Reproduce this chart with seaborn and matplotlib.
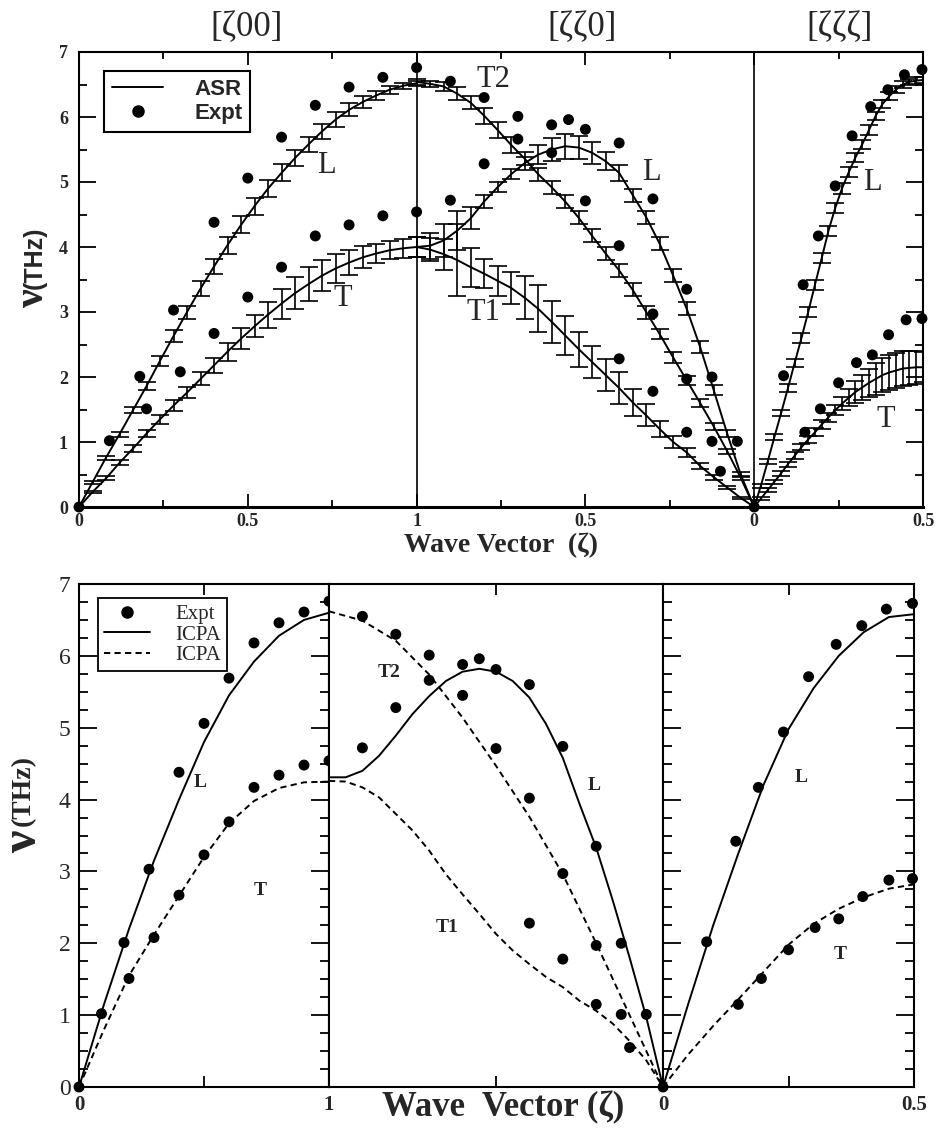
import matplotlib
matplotlib.use("Agg")
import matplotlib.pyplot as plt
from matplotlib.lines import Line2D
from matplotlib.ticker import FixedLocator, MultipleLocator
import seaborn as sns

# ---------------- top panel : ASR with error bars ----------------
zeta_04 = [0.0, 0.04, 0.08, 0.12, 0.16, 0.2, 0.24, 0.28, 0.32, 0.36, 0.4, 0.44, 0.48,
           0.52, 0.56, 0.6, 0.64, 0.68, 0.72, 0.76, 0.8, 0.84, 0.88, 0.92, 0.96, 1.0]
zeta_04_rev = zeta_04[::-1]
zeta_02 = [0.0, 0.02, 0.04, 0.06, 0.08, 0.1, 0.12, 0.14, 0.16, 0.18, 0.2, 0.22, 0.24,
           0.26, 0.28, 0.3, 0.32, 0.34, 0.36, 0.38, 0.4, 0.42, 0.44, 0.46, 0.48, 0.5]

asr_x00_L = [0.0, 0.38, 0.76, 1.12, 1.49, 1.86, 2.25, 2.63, 3.0, 3.36, 3.7, 4.03, 4.34,
             4.63, 4.9, 5.14, 5.37, 5.58, 5.78, 5.96, 6.11, 6.23, 6.33, 6.42, 6.48, 6.52]
asr_x00_L_err = [0.0, 0.02, 0.03, 0.04, 0.05, 0.06, 0.08, 0.09, 0.1, 0.11, 0.12, 0.13, 0.13,
                 0.13, 0.13, 0.13, 0.13, 0.12, 0.12, 0.11, 0.1, 0.09, 0.07, 0.06, 0.05, 0.04]
asr_x00_T = [0.0, 0.23, 0.44, 0.68, 0.9, 1.13, 1.35, 1.56, 1.76, 1.97, 2.18, 2.39, 2.59,
             2.78, 2.96, 3.13, 3.29, 3.43, 3.56, 3.67, 3.76, 3.84, 3.9, 3.95, 3.98, 4.0]
asr_x00_T_err = [0.0, 0.02, 0.03, 0.04, 0.05, 0.06, 0.07, 0.08, 0.09, 0.1, 0.12, 0.14, 0.16,
                 0.17, 0.2, 0.23, 0.25, 0.26, 0.24, 0.22, 0.19, 0.17, 0.15, 0.14, 0.15, 0.16]

# [zz0] listed from zeta = 1 down to 0
asr_xx0_T2 = [6.54, 6.51, 6.47, 6.36, 6.22, 6.02, 5.8, 5.57, 5.36, 5.12, 4.92, 4.7, 4.45,
              4.17, 3.9, 3.64, 3.34, 3.0, 2.66, 2.3, 1.95, 1.6, 1.24, 0.86, 0.45, 0.0]
asr_xx0_T2_err = [0.04, 0.05, 0.07, 0.1, 0.1, 0.12, 0.12, 0.12, 0.1, 0.1, 0.1, 0.1, 0.1,
                  0.1, 0.1, 0.1, 0.1, 0.1, 0.08, 0.08, 0.07, 0.06, 0.05, 0.04, 0.03, 0.0]
asr_xx0_L = [4.0, 4.02, 4.1, 4.25, 4.44, 4.7, 4.92, 5.12, 5.29, 5.42, 5.5, 5.55, 5.53,
             5.45, 5.32, 5.14, 4.8, 4.46, 4.05, 3.56, 3.05, 2.46, 1.8, 1.13, 0.5, 0.0]
asr_xx0_L_err = [0.15, 0.2, 0.25, 0.3, 0.17, 0.1, 0.08, 0.08, 0.1, 0.15, 0.17, 0.19, 0.18,
                 0.17, 0.14, 0.12, 0.1, 0.1, 0.1, 0.1, 0.1, 0.09, 0.08, 0.06, 0.04, 0.0]
asr_xx0_T1 = [4.0, 3.96, 3.89, 3.8, 3.69, 3.59, 3.48, 3.37, 3.22, 3.05, 2.85, 2.64, 2.43,
              2.23, 2.03, 1.83, 1.61, 1.41, 1.2, 1.0, 0.84, 0.63, 0.46, 0.3, 0.14, 0.0]
asr_xx0_T1_err = [0.15, 0.18, 0.24, 0.55, 0.3, 0.22, 0.23, 0.24, 0.33, 0.36, 0.32, 0.3, 0.27,
                  0.25, 0.24, 0.24, 0.21, 0.17, 0.12, 0.09, 0.07, 0.05, 0.04, 0.03, 0.02, 0.0]

asr_xxx_L = [0.0, 0.33, 0.7, 1.08, 1.45, 1.83, 2.22, 2.6, 3.0, 3.42, 3.83, 4.25, 4.6,
             4.9, 5.15, 5.38, 5.58, 5.8, 6.02, 6.2, 6.32, 6.42, 6.5, 6.54, 6.56, 6.57]
asr_xxx_L_err = [0.0, 0.03, 0.04, 0.05, 0.05, 0.06, 0.06, 0.07, 0.07, 0.08, 0.08, 0.08, 0.08,
                 0.08, 0.08, 0.07, 0.07, 0.07, 0.06, 0.06, 0.06, 0.05, 0.05, 0.05, 0.05, 0.05]
asr_xxx_T = [0.0, 0.13, 0.26, 0.39, 0.52, 0.66, 0.79, 0.92, 1.04, 1.15, 1.27, 1.38, 1.49,
             1.59, 1.68, 1.77, 1.84, 1.91, 1.97, 2.03, 2.07, 2.1, 2.13, 2.14, 2.15, 2.15]
asr_xxx_T_err = [0.0, 0.02, 0.03, 0.03, 0.04, 0.04, 0.05, 0.05, 0.06, 0.06, 0.07, 0.07, 0.08,
                 0.1, 0.13, 0.17, 0.19, 0.22, 0.24, 0.26, 0.27, 0.27, 0.27, 0.26, 0.25, 0.23]

# ---------------- experiment (same in both panels) ----------------
expt_x00_zeta = [0.0, 0.09, 0.18, 0.28, 0.4, 0.5, 0.6, 0.7, 0.8, 0.9, 1.0,
                 0.2, 0.3, 0.4, 0.5, 0.6, 0.7, 0.8, 0.9, 1.0]
expt_x00_nu = [0.0, 1.02, 2.01, 3.03, 4.38, 5.06, 5.69, 6.18, 6.46, 6.61, 6.76,
               1.51, 2.08, 2.67, 3.23, 3.69, 4.17, 4.34, 4.48, 4.54]
expt_xx0_zeta = [0.9, 0.9, 0.8, 0.8, 0.7, 0.7, 0.6, 0.6, 0.55, 0.5, 0.5, 0.4, 0.4, 0.4,
                 0.3, 0.3, 0.3, 0.2, 0.2, 0.2, 0.125, 0.125, 0.05, 0.1]
expt_xx0_nu = [6.55, 4.72, 6.3, 5.28, 6.01, 5.66, 5.88, 5.45, 5.96, 5.81, 4.71, 5.6, 4.02, 2.28,
               4.74, 2.97, 1.78, 3.35, 1.97, 1.15, 2.0, 1.01, 1.01, 0.55]
expt_xxx_zeta = [0.0, 0.087, 0.145, 0.19, 0.24, 0.29, 0.345, 0.396, 0.445, 0.497,
                 0.15, 0.196, 0.25, 0.303, 0.35, 0.398, 0.45, 0.497]
expt_xxx_nu = [0.0, 2.02, 3.42, 4.17, 4.94, 5.71, 6.16, 6.42, 6.65, 6.73,
               1.15, 1.51, 1.91, 2.22, 2.34, 2.65, 2.88, 2.9]

# ---------------- bottom panel : ICPA ----------------
icpa_x00_zeta = [0.0, 0.1, 0.2, 0.3, 0.4, 0.5, 0.6, 0.7, 0.8, 0.9, 1.0]
icpa_x00_L = [0.0, 1.15, 2.2, 3.15, 4.0, 4.8, 5.45, 5.92, 6.28, 6.5, 6.6]
icpa_x00_T = [0.0, 0.8, 1.55, 2.12, 2.66, 3.2, 3.67, 3.98, 4.16, 4.24, 4.25]

icpa_xx0_zeta = [1.0, 0.95, 0.9, 0.85, 0.8, 0.75, 0.7, 0.65, 0.6, 0.55, 0.5,
                 0.45, 0.4, 0.35, 0.3, 0.25, 0.2, 0.15, 0.1, 0.05, 0.0]
icpa_xx0_L = [4.31, 4.31, 4.4, 4.61, 4.89, 5.19, 5.44, 5.65, 5.78, 5.82, 5.78,
              5.65, 5.42, 5.05, 4.58, 3.94, 3.33, 2.59, 1.8, 0.97, 0.0]
icpa_xx0_T1 = [4.26, 4.25, 4.17, 4.03, 3.8, 3.57, 3.29, 2.96, 2.68, 2.41, 2.13,
               1.9, 1.71, 1.53, 1.39, 1.2, 1.06, 0.88, 0.64, 0.37, 0.0]
icpa_xx0_T2_zeta = [1.0, 0.9, 0.8, 0.7, 0.6, 0.5, 0.4, 0.3, 0.2, 0.1, 0.0]
icpa_xx0_T2 = [6.62, 6.49, 6.21, 5.74, 5.14, 4.47, 3.76, 2.96, 2.0, 1.0, 0.0]

icpa_xxx_zeta = [0.0, 0.05, 0.1, 0.15, 0.2, 0.25, 0.3, 0.35, 0.4, 0.45, 0.5]
icpa_xxx_L = [0.0, 1.15, 2.25, 3.25, 4.2, 4.98, 5.55, 6.0, 6.33, 6.54, 6.58]
icpa_xxx_T = [0.0, 0.45, 0.85, 1.22, 1.6, 1.98, 2.27, 2.48, 2.64, 2.76, 2.82]

top_tick_labels = ["0", "0.5", "1", "0.5", "0", "0.5"]
dir_labels = ["[\u03b600]", "[\u03b6\u03b60]", "[\u03b6\u03b6\u03b6]"]

SERIF = ["Liberation Serif", "DejaVu Serif"]
SANS = ["Liberation Sans", "DejaVu Sans"]

sns.set_theme(style="ticks")
plt.rcParams["font.family"] = SERIF
plt.rcParams["axes.linewidth"] = 1.5

W, H = 938, 1128
fig = plt.figure(figsize=(W / 100, H / 100), dpi=100)


def rect(x0, y0, x1, y1):
    return [x0 / W, 1 - y1 / H, (x1 - x0) / W, (y1 - y0) / H]


def to_x(seg, z):
    # global abscissa of the top panel
    if seg == 0:
        return list(z)
    if seg == 1:
        return [2 - v for v in z]
    return [2 + v for v in z]


# ================= top panel =================
ax = fig.add_axes(rect(79, 52, 923, 507))
curves = [
    (0, zeta_04, asr_x00_L, asr_x00_L_err),
    (0, zeta_04, asr_x00_T, asr_x00_T_err),
    (1, zeta_04_rev, asr_xx0_T2, asr_xx0_T2_err),
    (1, zeta_04_rev, asr_xx0_L, asr_xx0_L_err),
    (1, zeta_04_rev, asr_xx0_T1, asr_xx0_T1_err),
    (2, zeta_02, asr_xxx_L, asr_xxx_L_err),
    (2, zeta_02, asr_xxx_T, asr_xxx_T_err),
]
for seg, z, nu, err in curves:
    xs = to_x(seg, z)
    sns.lineplot(x=xs, y=nu, ax=ax, color="black", lw=1.4, sort=False, estimator=None)
    ax.errorbar(xs, nu, yerr=err, fmt="none", ecolor="black", elinewidth=1.2,
                capsize=6.5, capthick=1.2)

ex = to_x(0, expt_x00_zeta) + to_x(1, expt_xx0_zeta) + to_x(2, expt_xxx_zeta)
ey = expt_x00_nu + expt_xx0_nu + expt_xxx_nu
sns.scatterplot(x=ex, y=ey, ax=ax, color="black", s=62, edgecolor="none",
                marker="o", clip_on=False, zorder=5)

ax.axvline(1, color="black", lw=1.2)
ax.axvline(2, color="black", lw=1.2)
ax.set_xlim(0, 2.5)
ax.set_ylim(0, 7)
ax.xaxis.set_major_locator(FixedLocator([0, 0.5, 1, 1.5, 2, 2.5]))
ax.set_xticklabels(top_tick_labels)
ax.xaxis.set_minor_locator(FixedLocator([0.25, 0.75, 1.25, 1.75, 2.25]))
ax.yaxis.set_major_locator(MultipleLocator(1))
ax.yaxis.set_minor_locator(MultipleLocator(0.5))
ax.tick_params(axis="both", which="both", direction="in", top=True, right=True,
               color="black", width=1.3)
ax.tick_params(axis="x", which="major", length=9.5, pad=4)
ax.tick_params(axis="x", which="minor", length=5)
ax.tick_params(axis="y", which="major", length=12.5, pad=8)
ax.tick_params(axis="y", which="minor", length=6)
for lab in ax.get_xticklabels() + ax.get_yticklabels():
    lab.set_fontweight("bold")
    lab.set_fontsize(13)
for sp in ax.spines.values():
    sp.set_color("black")
ax.spines["bottom"].set_linewidth(2.2)

ax.set_xlabel("Wave Vector  (\u03b6)", fontsize=20, fontweight="bold", labelpad=2)

for txt, (x, y) in [("L", (0.734, 5.26)), ("T", (0.78, 3.2)), ("T2", (1.228, 6.57)),
                    ("L", (1.695, 5.15)), ("T1", (1.198, 3.0)), ("L", (2.35, 5.0)),
                    ("T", (2.39, 1.35))]:
    ax.text(x, y, txt, fontsize=22, ha="center", va="center")

handles = [Line2D([], [], color="black", lw=1.4),
           Line2D([], [], color="black", marker="o", ls="none", ms=8)]
leg = ax.legend(handles, ["ASR", "Expt"], loc="upper left", bbox_to_anchor=(0.03, 0.958),
                borderaxespad=0, frameon=True, fancybox=False, framealpha=1,
                handlelength=2.3, handletextpad=1.4, borderpad=0.35, labelspacing=0.15,
                prop={"family": SANS, "weight": "bold", "size": 16})
leg.get_frame().set_edgecolor("black")
leg.get_frame().set_linewidth(1.5)

for txt, cx in zip(dir_labels, [247, 582, 840]):
    fig.text(cx / W, 1 - 28 / H, txt, fontsize=25, ha="center", va="center")

fig.text(33 / W, 1 - 298 / H, "\u03bd", fontsize=30, fontweight="bold", rotation=90,
         ha="center", va="center")
fig.text(35 / W, 1 - 258 / H, "(THz)", fontsize=18, fontweight="bold", rotation=90,
         ha="center", va="center", family=SANS)

# ================= bottom panel =================
axl = fig.add_axes(rect(79, 584, 329, 1087))
axm = fig.add_axes(rect(329, 584, 663, 1087))
axr = fig.add_axes(rect(663, 584, 914, 1087))
dash = (0, (3.2, 2.2))

sns.lineplot(x=icpa_x00_zeta, y=icpa_x00_L, ax=axl, color="black", lw=1.4, sort=False)
sns.lineplot(x=icpa_x00_zeta, y=icpa_x00_T, ax=axl, color="black", lw=1.4, sort=False)
axl.lines[-1].set_linestyle(dash)
sns.scatterplot(x=expt_x00_zeta, y=expt_x00_nu, ax=axl, color="black", s=62,
                edgecolor="none", clip_on=False, zorder=5)

sns.lineplot(x=icpa_xx0_zeta, y=icpa_xx0_L, ax=axm, color="black", lw=1.4, sort=False)
sns.lineplot(x=icpa_xx0_zeta, y=icpa_xx0_T1, ax=axm, color="black", lw=1.4, sort=False)
axm.lines[-1].set_linestyle(dash)
sns.lineplot(x=icpa_xx0_T2_zeta, y=icpa_xx0_T2, ax=axm, color="black", lw=1.4, sort=False)
axm.lines[-1].set_linestyle(dash)
sns.scatterplot(x=expt_xx0_zeta, y=expt_xx0_nu, ax=axm, color="black", s=62,
                edgecolor="none", clip_on=False, zorder=5)

sns.lineplot(x=icpa_xxx_zeta, y=icpa_xxx_L, ax=axr, color="black", lw=1.4, sort=False)
sns.lineplot(x=icpa_xxx_zeta, y=icpa_xxx_T, ax=axr, color="black", lw=1.4, sort=False)
axr.lines[-1].set_linestyle(dash)
sns.scatterplot(x=expt_xxx_zeta, y=expt_xxx_nu, ax=axr, color="black", s=62,
                edgecolor="none", clip_on=False, zorder=5)

axl.set_xlim(0, 1)
axm.set_xlim(1, 0)
axr.set_xlim(0, 0.5)
for a in (axl, axm, axr):
    a.set_ylim(0, 7)
    a.yaxis.set_major_locator(MultipleLocator(1))
    a.yaxis.set_minor_locator(MultipleLocator(0.25))
    a.tick_params(axis="both", which="both", direction="in", top=True, right=True,
                  color="black", width=1.3)
    a.tick_params(axis="y", which="major", length=13)
    a.tick_params(axis="y", which="minor", length=6.5)
    a.tick_params(axis="x", which="both", length=8)
    a.set_xlabel("")
    a.set_ylabel("")
    for sp in a.spines.values():
        sp.set_color("black")
        sp.set_linewidth(1.5)

axl.xaxis.set_major_locator(FixedLocator([0, 1]))
axl.set_xticklabels(["0", "1"])
axl.xaxis.set_minor_locator(FixedLocator([0.5]))
axm.xaxis.set_major_locator(FixedLocator([]))
axm.xaxis.set_minor_locator(FixedLocator([0.5]))
axm.tick_params(axis="y", which="both", left=False, right=False, labelleft=False)
axr.xaxis.set_major_locator(FixedLocator([0, 0.5]))
axr.set_xticklabels(["0", "0.5"])
axr.xaxis.set_minor_locator(FixedLocator([0.25]))
axr.tick_params(axis="y", which="both", labelleft=False)
for a in (axl, axr):
    a.tick_params(axis="x", which="major", length=0, pad=6)
    for lab in a.get_xticklabels():
        lab.set_fontweight("bold")
        lab.set_fontsize(15)
axl.tick_params(axis="y", which="major", labelsize=17, pad=6)

for a, txt, x, y in [(axl, "L", 0.484, 4.24), (axl, "T", 0.724, 2.74),
                     (axm, "T2", 0.82, 5.77), (axm, "T1", 0.646, 2.22),
                     (axm, "L", 0.207, 4.19), (axr, "L", 0.275, 4.31),
                     (axr, "T", 0.352, 1.84)]:
    a.text(x, y, txt, fontsize=14, fontweight="bold", ha="center", va="center")

handles = [Line2D([], [], color="black", marker="o", ls="none", ms=8),
           Line2D([], [], color="black", lw=1.4),
           Line2D([], [], color="black", lw=1.4, ls=dash)]
leg = axl.legend(handles, ["Expt", "ICPA", "ICPA"], loc="upper left",
                 bbox_to_anchor=(0.076, 0.972), borderaxespad=0, frameon=True,
                 fancybox=False, framealpha=1, handlelength=2.2, handletextpad=1.2,
                 borderpad=0.3, labelspacing=0.05, prop={"size": 15})
leg.get_frame().set_edgecolor("black")
leg.get_frame().set_linewidth(1.3)

fig.text(503 / W, 1 - 1108 / H, "Wave  Vector (\u03b6)", fontsize=25, fontweight="bold",
         ha="center", va="center")
fig.text(24 / W, 1 - 842 / H, "\u03bd", fontsize=36, fontweight="bold", rotation=90,
         ha="center", va="center")
fig.text(23 / W, 1 - 790 / H, "(THz)", fontsize=20, fontweight="bold", rotation=90,
         ha="center", va="center")

fig.savefig("out.png", dpi=100)
